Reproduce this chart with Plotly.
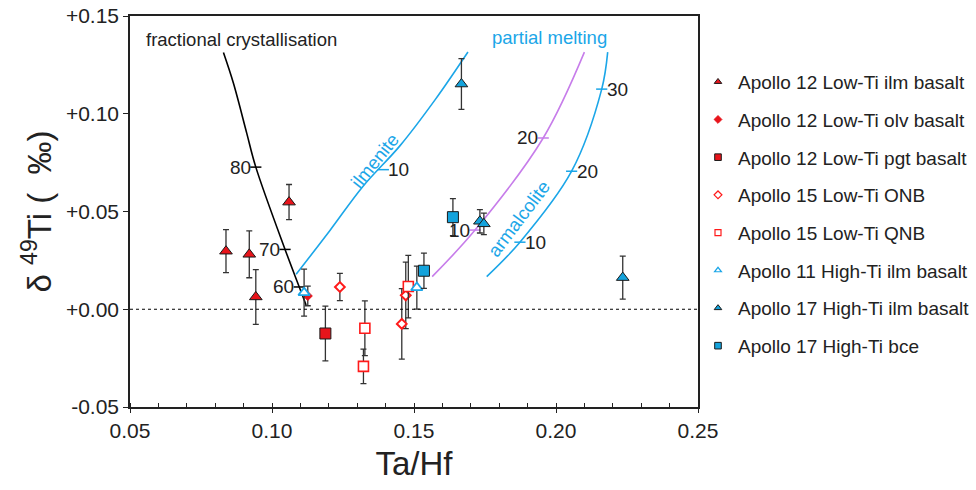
import plotly.graph_objects as go

# ---------------- data ----------------
# Apollo 12 Low-Ti ilmenite basalt
a12_ilm_x = [0.0838, 0.0920, 0.0943, 0.1060]
a12_ilm_y = [0.0297, 0.0281, 0.0063, 0.0548]
a12_ilm_e = [0.011, 0.012, 0.014, 0.009]
# Apollo 12 Low-Ti olivine basalt
a12_olv_x = [0.1126]
a12_olv_y = [0.0068]
a12_olv_e = [0.005]
# Apollo 12 Low-Ti pigeonite basalt
a12_pgt_x = [0.1188]
a12_pgt_y = [-0.0124]
a12_pgt_e = [0.014]
# Apollo 15 Low-Ti ONB
a15_onb_x = [0.1239, 0.1457, 0.1471]
a15_onb_y = [0.0114, -0.0075, 0.0071]
a15_onb_e = [0.007, 0.018, 0.017]
# Apollo 15 Low-Ti QNB
a15_qnb_x = [0.1327, 0.1322, 0.1480]
a15_qnb_y = [-0.0097, -0.0292, 0.0116]
a15_qnb_e = [0.014, 0.0088, 0.016]
# Apollo 11 High-Ti ilmenite basalt
a11_ilm_x = [0.1113, 0.1510]
a11_ilm_y = [0.0085, 0.0111]
a11_ilm_e = [0.012, 0.011]
# Apollo 17 High-Ti ilmenite basalt
a17_ilm_x = [0.1667, 0.1732, 0.1746, 0.2235]
a17_ilm_y = [0.1152, 0.0450, 0.0437, 0.0162]
a17_ilm_e = [0.013, 0.006, 0.0055, 0.011]
# Apollo 17 High-Ti bce
a17_bce_x = [0.1535, 0.1637]
a17_bce_y = [0.0197, 0.0471]
a17_bce_e = [0.009, 0.0095]

# model curves
fc_x = [0.0829, 0.0864, 0.0911, 0.0943, 0.1046, 0.1096, 0.1120]
fc_y = [0.1313, 0.1157, 0.0901, 0.0727, 0.0306, 0.0114, 0.0022]
ilm_x = [0.1085, 0.1204, 0.1320, 0.1451, 0.1574, 0.1690]
ilm_y = [0.0179, 0.0403, 0.0628, 0.0837, 0.1071, 0.1316]
pm_x = [0.1564, 0.1715, 0.1955, 0.2100]
pm_y = [0.0167, 0.0405, 0.0876, 0.1315]
arm_x = [0.1756, 0.1873, 0.2055, 0.2161, 0.2182]
arm_y = [0.0167, 0.0343, 0.0706, 0.1126, 0.1315]

# degree-of-melting / crystallisation ticks on the curves
fc_tick_x = [0.0943, 0.1046, 0.1096]
fc_tick_y = [0.0727, 0.0306, 0.0114]
fc_tick_t = ["80", "70", "60"]
ilm_tick_x = [0.1392]
ilm_tick_y = [0.0714]
ilm_tick_t = ["10"]
pm_tick_x = [0.1715, 0.1955]
pm_tick_y = [0.0405, 0.0876]
pm_tick_t = ["10", "20"]
arm_tick_x = [0.1873, 0.2055, 0.2161]
arm_tick_y = [0.0343, 0.0706, 0.1126]
arm_tick_t = ["10", "20", "30"]

x_ticks = [0.05, 0.10, 0.15, 0.20, 0.25]
x_ticklabels = ["0.05", "0.10", "0.15", "0.20", "0.25"]
y_ticks = [-0.05, 0.0, 0.05, 0.10, 0.15]
y_ticklabels = ["-0.05", "+0.00", "+0.05", "+0.10", "+0.15"]

# ---------------- style ----------------
RED = "#e8141b"
RED_OPEN = "#ff1a1a"
CYAN = "#1ba6e8"
CYAN_FILL = "#14a3dc"
PURPLE = "#c77dea"
EDGE = "#1a1a1a"
ERR = "#333333"
FONT = "Liberation Sans, Arial, sans-serif"

fig = go.Figure()

# curves
for cx, cy, col in [(fc_x, fc_y, "black"), (ilm_x, ilm_y, CYAN),
                    (pm_x, pm_y, PURPLE), (arm_x, arm_y, CYAN)]:
    fig.add_trace(go.Scatter(x=cx, y=cy, mode="lines", line=dict(color=col, width=1.6, shape="spline"),
                             showlegend=False, hoverinfo="skip"))

# tick marks on curves
for tx, ty, col in [(fc_tick_x, fc_tick_y, "black"), (ilm_tick_x, ilm_tick_y, CYAN),
                    (pm_tick_x, pm_tick_y, PURPLE), (arm_tick_x, arm_tick_y, CYAN)]:
    fig.add_trace(go.Scatter(x=tx, y=ty, mode="markers",
                             marker=dict(symbol="line-ew", size=8, line=dict(color=col, width=1.5)),
                             showlegend=False, hoverinfo="skip"))

# tick labels on curves
for tx, ty, tt, side in [(fc_tick_x, fc_tick_y, fc_tick_t, "left"), (ilm_tick_x, ilm_tick_y, ilm_tick_t, "right"),
                         (pm_tick_x, pm_tick_y, pm_tick_t, "left"), (arm_tick_x, arm_tick_y, arm_tick_t, "right")]:
    for x, y, t in zip(tx, ty, tt):
        fig.add_annotation(x=x, y=y, text=t, showarrow=False,
                           xanchor="right" if side == "left" else "left",
                           xshift=-3 if side == "left" else 3,
                           font=dict(family=FONT, size=19, color="#222"))

series = [
    ("Apollo 12 Low-Ti ilm basalt", a12_ilm_x, a12_ilm_y, a12_ilm_e, "triangle-up", 11, RED, EDGE, 1.0),
    ("Apollo 12 Low-Ti olv basalt", a12_olv_x, a12_olv_y, a12_olv_e, "diamond", 7, RED, RED, 1.0),
    ("Apollo 12 Low-Ti pgt basalt", a12_pgt_x, a12_pgt_y, a12_pgt_e, "square", 11, RED, EDGE, 1.0),
    ("Apollo 15 Low-Ti ONB", a15_onb_x, a15_onb_y, a15_onb_e, "diamond", 7.5, "white", RED_OPEN, 2.0),
    ("Apollo 15 Low-Ti QNB", a15_qnb_x, a15_qnb_y, a15_qnb_e, "square", 10, "white", RED_OPEN, 1.6),
    ("Apollo 11 High-Ti ilm basalt", a11_ilm_x, a11_ilm_y, a11_ilm_e, "triangle-up", 10, "white", CYAN, 1.8),
    ("Apollo 17 High-Ti ilm basalt", a17_ilm_x, a17_ilm_y, a17_ilm_e, "triangle-up", 11, CYAN_FILL, EDGE, 1.0),
    ("Apollo 17 High-Ti bce", a17_bce_x, a17_bce_y, a17_bce_e, "square", 11, CYAN_FILL, EDGE, 1.0),
]

for i, (name, x, y, e, sym, size, fill, edge, lw) in enumerate(series):
    fig.add_trace(go.Scatter(
        x=x, y=y, mode="markers", name=name, showlegend=False,
        marker=dict(symbol=sym, size=size, color=fill, line=dict(color=edge, width=lw)),
        error_y=dict(type="data", array=e, visible=True, color=ERR, thickness=1.3, width=3),
    ))

# legend entries (small symbols as in the original)
for i, (name, x, y, e, sym, size, fill, edge, lw) in enumerate(series):
    fig.add_trace(go.Scatter(
        x=[None], y=[None], mode="markers", name=name, legendgroup=f"g{i}",
        marker=dict(symbol=sym, size=max(6, size * 0.6), color=fill, line=dict(color=edge, width=min(lw, 1.2))),
    ))

# zero reference line
fig.add_shape(type="line", xref="paper", x0=0, x1=1, yref="y", y0=0, y1=0,
              line=dict(color="black", width=1, dash="dot"))

# curve names
fig.add_annotation(x=0.0894, y=0.1378, text="fractional crystallisation", showarrow=False,
                   font=dict(family=FONT, size=18.5, color="#222"))
fig.add_annotation(x=0.1977, y=0.1388, text="partial melting", showarrow=False,
                   font=dict(family=FONT, size=18.5, color=CYAN))
fig.add_annotation(x=0.1380, y=0.0740, text="ilmenite", showarrow=False, textangle=-51,
                   xshift=-5, yshift=4, font=dict(family=FONT, size=18.5, color=CYAN))
fig.add_annotation(x=0.1887, y=0.0444, text="armalcolite", showarrow=False, textangle=-53,
                   xshift=-5, yshift=4, font=dict(family=FONT, size=18.5, color=CYAN))

fig.update_layout(
    width=976, height=490,
    margin=dict(l=130, r=278, t=16, b=83, autoexpand=False),
    paper_bgcolor="white", plot_bgcolor="white",
    font=dict(family=FONT, color="#222"),
    legend=dict(x=1.0, xanchor="left", y=0.88, yanchor="top",
                font=dict(family=FONT, size=19, color="#222"),
                tracegroupgap=10, bgcolor="rgba(0,0,0,0)"),
    xaxis=dict(range=[0.05, 0.25], tickvals=x_ticks, ticktext=x_ticklabels, automargin=False,
               showgrid=False, zeroline=False, showline=True, linecolor="#222", linewidth=1.5,
               mirror=True, ticks="outside", ticklen=4, tickcolor="#222", ticklabeloverflow="allow",
               minor=dict(dtick=0.01, ticks="inside", ticklen=4, tickcolor="#222", showgrid=False),
               tickfont=dict(family=FONT, size=21, color="#222"),
               title=dict(text="Ta/Hf", font=dict(family=FONT, size=33, color="#222"), standoff=11)),
    yaxis=dict(range=[-0.05, 0.15], tickvals=y_ticks, ticktext=y_ticklabels, automargin=False,
               showgrid=False, zeroline=False, showline=True, linecolor="#222", linewidth=1.5,
               mirror=True, ticks="outside", ticklen=5, tickcolor="#222", ticklabeloverflow="allow",
               tickfont=dict(family=FONT, size=21, color="#222"),
               title=dict(text="δ <sup>49</sup>Ti (\u00a0\u00a0‰)", font=dict(family=FONT, size=33, color="#222"), standoff=4)),
)

# remove the default page margin so the figure fills the window exactly
fig.write_html("out.html", config={"displayModeBar": False},
               post_script="document.body.style.margin='0';")
